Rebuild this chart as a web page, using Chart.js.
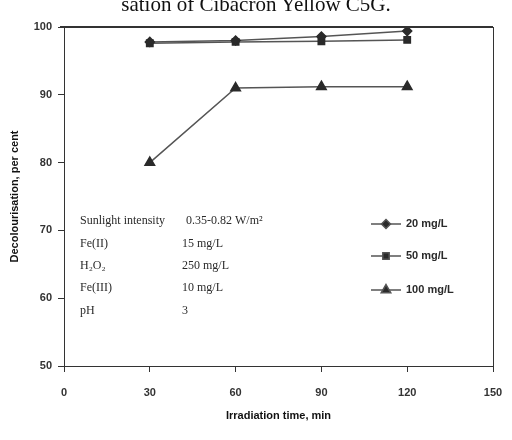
<!DOCTYPE html>
<html>
<head>
<meta charset="utf-8">
<script src="https://cdn.jsdelivr.net/npm/chart.js@4.4.1/dist/chart.umd.min.js"></script>
<style>
  html, body { margin: 0; padding: 0; background: #fff; }
  #wrap { position: relative; width: 512px; height: 440px; overflow: hidden; }
  #title {
    position: absolute; left: 0; top: -8px; width: 512px; text-align: center;
    font-family: "Liberation Serif", "DejaVu Serif", serif; font-size: 21px; color: #111;
  }
  canvas { position: absolute; left: 0; top: 0; }
</style>
</head>
<body>
<div id="wrap">
  <canvas id="chart" width="512" height="440"></canvas>
  <div id="title">sation of Cibacron Yellow C5G.</div>
</div>
<script>
// Irradiation time (min) and decolourisation (%) for each dye concentration
const times = [30, 60, 90, 120];
const dye20 = [97.8, 98.0, 98.6, 99.4];
const dye50 = [97.6, 97.8, 97.9, 98.1];
const dye100 = [80.0, 91.0, 91.2, 91.2];
const seriesNames = ["20 mg/L", "50 mg/L", "100 mg/L"];

// experimental conditions shown inside the plot
const conditionNames = ["Sunlight intensity", "Fe(II)", "H\u2082O\u2082", "Fe(III)", "pH"];
const conditionValues = ["0.35-0.82 W/m\u00B2", "15 mg/L", "250 mg/L", "10 mg/L", "3"];

const ink = "#2a2a2a";

function points(values) {
  return values.map((v, i) => ({ x: times[i], y: v }));
}

// frame around the plot area
const framePlugin = {
  id: "frame",
  afterDraw(chart) {
    const a = chart.chartArea;
    const ctx = chart.ctx;
    ctx.save();
    ctx.strokeStyle = "#333";
    ctx.lineWidth = 1;
    ctx.strokeRect(a.left + 0.5, a.top + 0.5, a.right - a.left, a.bottom - a.top);
    ctx.beginPath();
    ctx.lineWidth = 2;
    ctx.moveTo(a.left - 4, a.top);
    ctx.lineTo(a.right, a.top);
    ctx.stroke();
    ctx.restore();
  }
};

// condition block and the legend, both inside the plot area
const notesPlugin = {
  id: "notes",
  afterDraw(chart) {
    const ctx = chart.ctx;
    ctx.save();
    ctx.fillStyle = ink;
    ctx.textBaseline = "middle";
    ctx.font = '12px "Liberation Serif", serif';
    const rows = [221, 244, 266, 288, 311];
    conditionNames.forEach((name, i) => {
      ctx.fillText(name, 80, rows[i]);
      ctx.fillText(conditionValues[i], i === 0 ? 186 : 182, rows[i]);
    });

    const legendRows = [224, 256, 290];
    ctx.font = 'bold 11px "Liberation Sans", Arial, sans-serif';
    chart.data.datasets.forEach((ds, i) => {
      const y = legendRows[i];
      ctx.strokeStyle = ds.borderColor;
      ctx.lineWidth = 1.5;
      ctx.beginPath();
      ctx.moveTo(371, y);
      ctx.lineTo(401, y);
      ctx.stroke();
      Chart.helpers.drawPoint(ctx, {
        pointStyle: ds.pointStyle,
        radius: ds.pointRadius,
        borderWidth: 1
      }, 386, y);
      ctx.fillStyle = ink;
      ctx.fillText(ds.label, 406, y);
    });
    ctx.restore();
  }
};

function makeSet(label, values, style, radius) {
  return {
    label: label,
    data: points(values),
    borderColor: "#555",
    borderWidth: 1.5,
    backgroundColor: ink,
    pointBackgroundColor: ink,
    pointBorderColor: ink,
    pointStyle: style,
    pointRadius: radius,
    showLine: true,
    tension: 0
  };
}

const tickFont = { family: '"Liberation Sans", Arial, sans-serif', size: 11, weight: "bold" };

new Chart(document.getElementById("chart"), {
  type: "scatter",
  data: {
    datasets: [
      makeSet(seriesNames[0], dye20, "rectRot", 4.5),
      makeSet(seriesNames[1], dye50, "rect", 4.5),
      makeSet(seriesNames[2], dye100, "triangle", 5.5)
    ]
  },
  options: {
    responsive: false,
    animation: false,
    layout: { padding: { top: 27, right: 19, bottom: 0, left: 0 } },
    plugins: {
      legend: { display: false },
      tooltip: { enabled: false }
    },
    scales: {
      x: {
        type: "linear",
        min: 0,
        max: 150,
        afterFit(scale) {
          scale.height = 74;
          scale.paddingLeft = 0;
          scale.paddingRight = 0;
        },
        ticks: { stepSize: 30, color: "#333", font: tickFont, padding: 14 },
        grid: { drawOnChartArea: false, color: "#333", tickLength: 6 },
        border: { color: "#333" },
        title: {
          display: true,
          text: "Irradiation time, min",
          color: "#111",
          font: { family: '"Liberation Sans", Arial, sans-serif', size: 11, weight: "bold" },
          padding: { top: 0, bottom: 17 }
        }
      },
      y: {
        min: 50,
        max: 100,
        afterFit(scale) { scale.width = 64; },
        ticks: { stepSize: 10, color: "#333", font: tickFont, padding: 6 },
        grid: { drawOnChartArea: false, color: "#333", tickLength: 6 },
        border: { color: "#333" },
        title: {
          display: true,
          text: "Decolourisation, per cent",
          color: "#111",
          font: { family: '"Liberation Sans", Arial, sans-serif', size: 11, weight: "bold" },
          padding: { top: 8, bottom: 0 }
        }
      }
    }
  },
  plugins: [framePlugin, notesPlugin]
});
</script>
</body>
</html>
